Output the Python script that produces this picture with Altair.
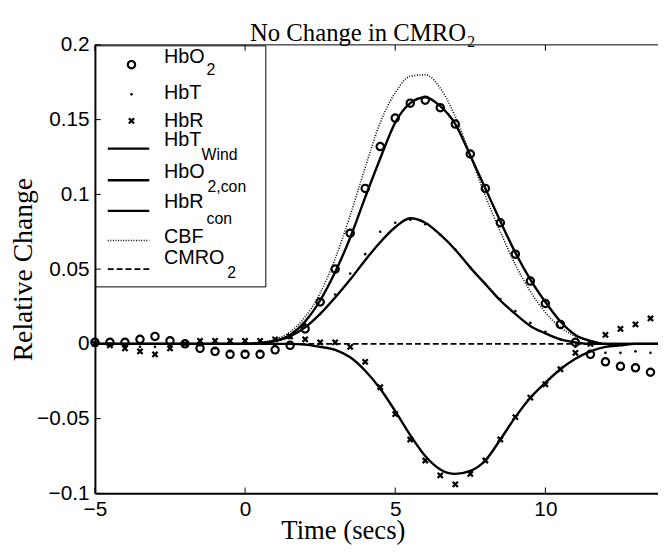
import altair as alt
import pandas as pd

# ---------------- data ----------------
T_SAMPLES = [-5.0, -4.5, -4.0, -3.5, -3.0, -2.5, -2.0, -1.5, -1.0, -0.5,
             0.0, 0.5, 1.0, 1.5, 2.0, 2.5, 3.0, 3.5, 4.0, 4.5,
             5.0, 5.5, 6.0, 6.5, 7.0, 7.5, 8.0, 8.5, 9.0, 9.5,
             10.0, 10.5, 11.0, 11.5, 12.0, 12.5, 13.0, 13.5]
HBO2 = [0.001, 0.001, 0.001, 0.003, 0.005, 0.002, 0.000, -0.003, -0.005, -0.007,
        -0.007, -0.007, -0.004, -0.001, 0.010, 0.028, 0.050, 0.074, 0.104, 0.132,
        0.151, 0.161, 0.163, 0.158, 0.147, 0.127, 0.104, 0.081, 0.060, 0.042,
        0.027, 0.013, 0.001, -0.007, -0.012, -0.015, -0.016, -0.019]
HBT = [0.001, 0.000, -0.002, -0.002, -0.002, -0.001, 0.000, -0.001, -0.003, -0.005,
       -0.005, -0.005, -0.001, 0.004, 0.013, 0.020, 0.033, 0.047, 0.060, 0.075,
       0.081, 0.083, 0.080, 0.073, 0.063, 0.051, 0.040, 0.030, 0.022, 0.014,
       0.008, 0.003, -0.002, -0.005, -0.006, -0.006, -0.005, -0.006]
HBR = [0.000, -0.001, -0.003, -0.005, -0.007, -0.003, 0.000, 0.002, 0.002, 0.002,
       0.002, 0.002, 0.003, 0.005, 0.003, 0.001, 0.001, -0.002, -0.012, -0.029,
       -0.047, -0.064, -0.078, -0.088, -0.094, -0.087, -0.078, -0.064, -0.049, -0.036,
       -0.027, -0.017, -0.006, 0.000, 0.006, 0.010, 0.013, 0.017]

T_FIT = [-5.0, -4.5, -4.0, -3.5, -3.0, -2.5, -2.0, -1.5, -1.0, -0.5,
         0.0, 0.5, 1.0, 1.5, 2.0, 2.5, 3.0, 3.5, 4.0, 4.5,
         5.0, 5.5, 6.0, 6.5, 7.0, 7.5, 8.0, 8.5, 9.0, 9.5,
         10.0, 10.5, 11.0, 11.5, 12.0, 12.5, 13.0, 13.5, 14.0]
HBT_WIND = [0, 0, 0, 0, 0, 0, 0, 0, 0, 0,
            0, 0.0005, 0.002, 0.005, 0.011, 0.020, 0.031, 0.043, 0.056, 0.068,
            0.078, 0.084, 0.081, 0.073, 0.063, 0.051, 0.040, 0.029, 0.020, 0.012,
            0.007, 0.003, 0.001, 0, 0, 0, 0, 0, 0]
HBO2_CON = [0, 0, 0, 0, 0, 0, 0, 0, 0, 0,
            0, 0.0005, 0.002, 0.006, 0.015, 0.029, 0.048, 0.071, 0.098, 0.124,
            0.148, 0.161, 0.165, 0.159, 0.147, 0.126, 0.104, 0.082, 0.061, 0.043,
            0.028, 0.015, 0.006, 0.002, 0, 0, 0, 0, 0]
HBR_CON = [0, 0, 0, 0, 0, 0, 0, 0, 0, 0,
           0, 0, 0, 0, -0.0005, -0.002, -0.004, -0.009, -0.018, -0.030,
           -0.045, -0.061, -0.075, -0.084, -0.087, -0.085, -0.078, -0.064, -0.049, -0.036,
           -0.026, -0.017, -0.010, -0.005, -0.002, -0.001, 0, 0, 0]
CBF = [0, 0, 0, 0, 0, 0, 0, 0, 0, 0,
       0, 0.001, 0.003, 0.008, 0.018, 0.034, 0.057, 0.086, 0.118, 0.148,
       0.168, 0.179, 0.180, 0.171, 0.152, 0.126, 0.099, 0.075, 0.053, 0.035,
       0.021, 0.011, 0.005, 0.002, 0, 0, 0, 0, 0]
CMRO2 = [0, 0, 0, 0, 0, 0, 0, 0, 0, 0,
         0, 0, 0, 0, 0, 0, 0, 0, 0, 0,
         0, 0, 0, 0, 0, 0, 0, 0, 0, 0,
         0, 0, 0, 0, 0, 0, 0, 0, 0]

X_TICKS = [-5, 0, 5, 10]
Y_TICKS = [-0.1, -0.05, 0, 0.05, 0.1, 0.15, 0.2]
X_DOMAIN = [-5, 13.75]
Y_DOMAIN = [-0.1, 0.2]

TITLE_MAIN = "No Change in CMRO"
TITLE_SUB = "2"
X_TITLE = "Time (secs)"
Y_TITLE = "Relative Change"

# legend labels: (main text, subscript)
LEG_LABELS = [("HbO", "2"), ("HbT", ""), ("HbR", ""), ("HbT", "Wind"),
              ("HbO", "2,con"), ("HbR", "con"), ("CBF", ""), ("CMRO", "2")]

# ---------------- tables ----------------
samples = pd.DataFrame({"t": T_SAMPLES, "HbO2": HBO2, "HbT": HBT, "HbR": HBR})
fits = pd.DataFrame({"t": T_FIT, "HbT_Wind": HBT_WIND, "HbO2_con": HBO2_CON,
                     "HbR_con": HBR_CON, "CBF": CBF, "CMRO2": CMRO2})
fit_long = fits.melt("t", var_name="series", value_name="v")

W, H = 570, 454
SANS = "Liberation Sans"
SERIF = "Liberation Serif"

xscale = alt.Scale(domain=X_DOMAIN, nice=False, zero=False)
yscale = alt.Scale(domain=Y_DOMAIN, nice=False, zero=False)

xaxis = alt.Axis(values=X_TICKS, grid=False, ticks=False, labelFont=SANS,
                 labelFontSize=21, labelColor="black", labelPadding=5,
                 domainColor="black", domainWidth=2, title=X_TITLE,
                 titleFont=SERIF, titleFontSize=27, titleFontWeight="normal",
                 titleColor="black", titleX=251, titleY=46,
                 titleBaseline="alphabetic", labelFlush=False)
yaxis = alt.Axis(values=Y_TICKS, grid=False, ticks=False, format=".2~f",
                 labelFont=SANS, labelFontSize=21, labelColor="black",
                 labelPadding=6, domainColor="black", domainWidth=2,
                 title=Y_TITLE, titleFont=SERIF, titleFontSize=28,
                 titleFontWeight="normal", titleColor="black", titleX=-64,
                 titleY=227, titleBaseline="alphabetic", labelFlush=False)


def X(field="t"):
    return alt.X(f"{field}:Q", scale=xscale, axis=xaxis)


def Y(field="v"):
    return alt.Y(f"{field}:Q", scale=yscale, axis=yaxis)


solid = alt.Chart(fit_long).transform_filter(
    alt.FieldOneOfPredicate(field="series", oneOf=["HbT_Wind", "HbO2_con", "HbR_con"])
).mark_line(color="black", strokeWidth=2.4, interpolate="monotone", clip=True).encode(
    x=X(), y=Y(), detail="series:N", order="t:Q")

dotted = alt.Chart(fit_long).transform_filter(
    alt.datum.series == "CBF"
).mark_line(color="black", strokeWidth=1.6, strokeDash=[1, 1.6],
            interpolate="monotone", clip=True).encode(x=X(), y=Y(), order="t:Q")

dashed = alt.Chart(fit_long).transform_filter(
    alt.datum.series == "CMRO2"
).mark_line(color="black", strokeWidth=1.8, strokeDash=[6, 3], clip=True).encode(
    x=X(), y=Y(), order="t:Q")

XSHAPE = "M-1,-1L1,1M1,-1L-1,1"

circles = alt.Chart(samples).mark_point(
    shape="circle", filled=False, size=55, strokeWidth=2.2, color="black", opacity=1
).encode(x=X(), y=Y("HbO2"))
crosses = alt.Chart(samples).mark_point(
    shape=XSHAPE, filled=False, size=28, strokeWidth=2.3, color="black", opacity=1
).encode(x=X(), y=Y("HbR"))
dots = alt.Chart(samples).mark_point(
    shape="circle", filled=True, size=7, color="black", opacity=1
).encode(x=X(), y=Y("HbT"))

# top frame line
top_line = alt.Chart(pd.DataFrame({"v": [Y_DOMAIN[1]]})).mark_rule(
    color="black", strokeWidth=1).encode(y=Y())

# inward ticks
yt = pd.DataFrame({"v": Y_TICKS, "t": X_DOMAIN[0]})
xt_bot = pd.DataFrame({"t": X_TICKS, "v": Y_DOMAIN[0]})
xt_top = pd.DataFrame({"t": X_TICKS, "v": Y_DOMAIN[1]})
yticks = alt.Chart(yt).mark_tick(orient="horizontal", size=6, thickness=1,
                                 color="black", xOffset=3, opacity=1).encode(x=X(), y=Y())
xticks_b = alt.Chart(xt_bot).mark_tick(orient="vertical", size=6, thickness=1,
                                       color="black", yOffset=-3, opacity=1).encode(x=X(), y=Y())
xticks_t = alt.Chart(xt_top).mark_tick(orient="vertical", size=6, thickness=1,
                                       color="black", yOffset=3, opacity=1).encode(x=X(), y=Y())

# ---------------- legend (pixel layout inside plot) ----------------
one = pd.DataFrame({"a": [0]})
legend_layers = []
legend_layers.append(alt.Chart(one).mark_rect(fill="white", stroke="black", strokeWidth=1).encode(
    x=alt.value(1), x2=alt.value(173), y=alt.value(1), y2=alt.value(245)))
# marker symbols
legend_layers.append(alt.Chart(one).mark_point(shape="circle", filled=False, size=55,
                                               strokeWidth=2.2, color="black", opacity=1).encode(
    x=alt.value(37), y=alt.value(20)))
legend_layers.append(alt.Chart(one).mark_point(shape="circle", filled=True, size=7,
                                               color="black", opacity=1).encode(
    x=alt.value(37), y=alt.value(50)))
legend_layers.append(alt.Chart(one).mark_point(shape=XSHAPE, filled=False, size=28,
                                               strokeWidth=2.3, color="black", opacity=1).encode(
    x=alt.value(37), y=alt.value(77)))
# line samples
line_rows = [(105, 2.4, None), (137, 2.4, None), (168, 2.4, None), (198, 1.6, [1, 1.6]), (227, 1.8, [6, 3])]
for yy, sw, dash in line_rows:
    kw = dict(color="black", strokeWidth=sw)
    if dash is not None:
        kw["strokeDash"] = dash
    legend_layers.append(alt.Chart(one).mark_rule(**kw).encode(
        x=alt.value(13), x2=alt.value(55), y=alt.value(yy)))
# texts
main_y = [12, 49, 77, 96, 129, 159, 195, 216]
sub_pos = [(113, 26), None, None, (108, 112), (114, 144), (113, 176), None, (134, 231)]
for (main, sub), my, sp in zip(LEG_LABELS, main_y, sub_pos):
    legend_layers.append(alt.Chart(one).mark_text(
        text=main, font=SANS, fontSize=20, align="left", baseline="middle", color="black"
    ).encode(x=alt.value(70), y=alt.value(my)))
    if sub:
        legend_layers.append(alt.Chart(one).mark_text(
            text=sub, font=SANS, fontSize=16, align="left", baseline="middle", color="black"
        ).encode(x=alt.value(sp[0]), y=alt.value(sp[1])))

# title as text with a subscript
title_main = alt.Chart(one).mark_text(
    text=TITLE_MAIN, font=SERIF, fontSize=25, align="left", baseline="alphabetic", color="black"
).encode(x=alt.value(157), y=alt.value(-4))
title_sub = alt.Chart(one).mark_text(
    text=TITLE_SUB, font=SERIF, fontSize=16, align="left", baseline="alphabetic", color="black"
).encode(x=alt.value(377), y=alt.value(2))

chart = alt.layer(
    dashed, dotted, solid, circles, dots, crosses, top_line,
    *legend_layers, yticks, xticks_b, xticks_t, title_main, title_sub
).properties(
    width=W, height=H,
    autosize=alt.AutoSizeParams(type="none"),
    padding={"left": 88, "top": 34, "right": 0, "bottom": 52},
    background="white",
).configure_view(stroke=None)

chart.save("out.html", embed_options={"renderer": "svg", "actions": False})
